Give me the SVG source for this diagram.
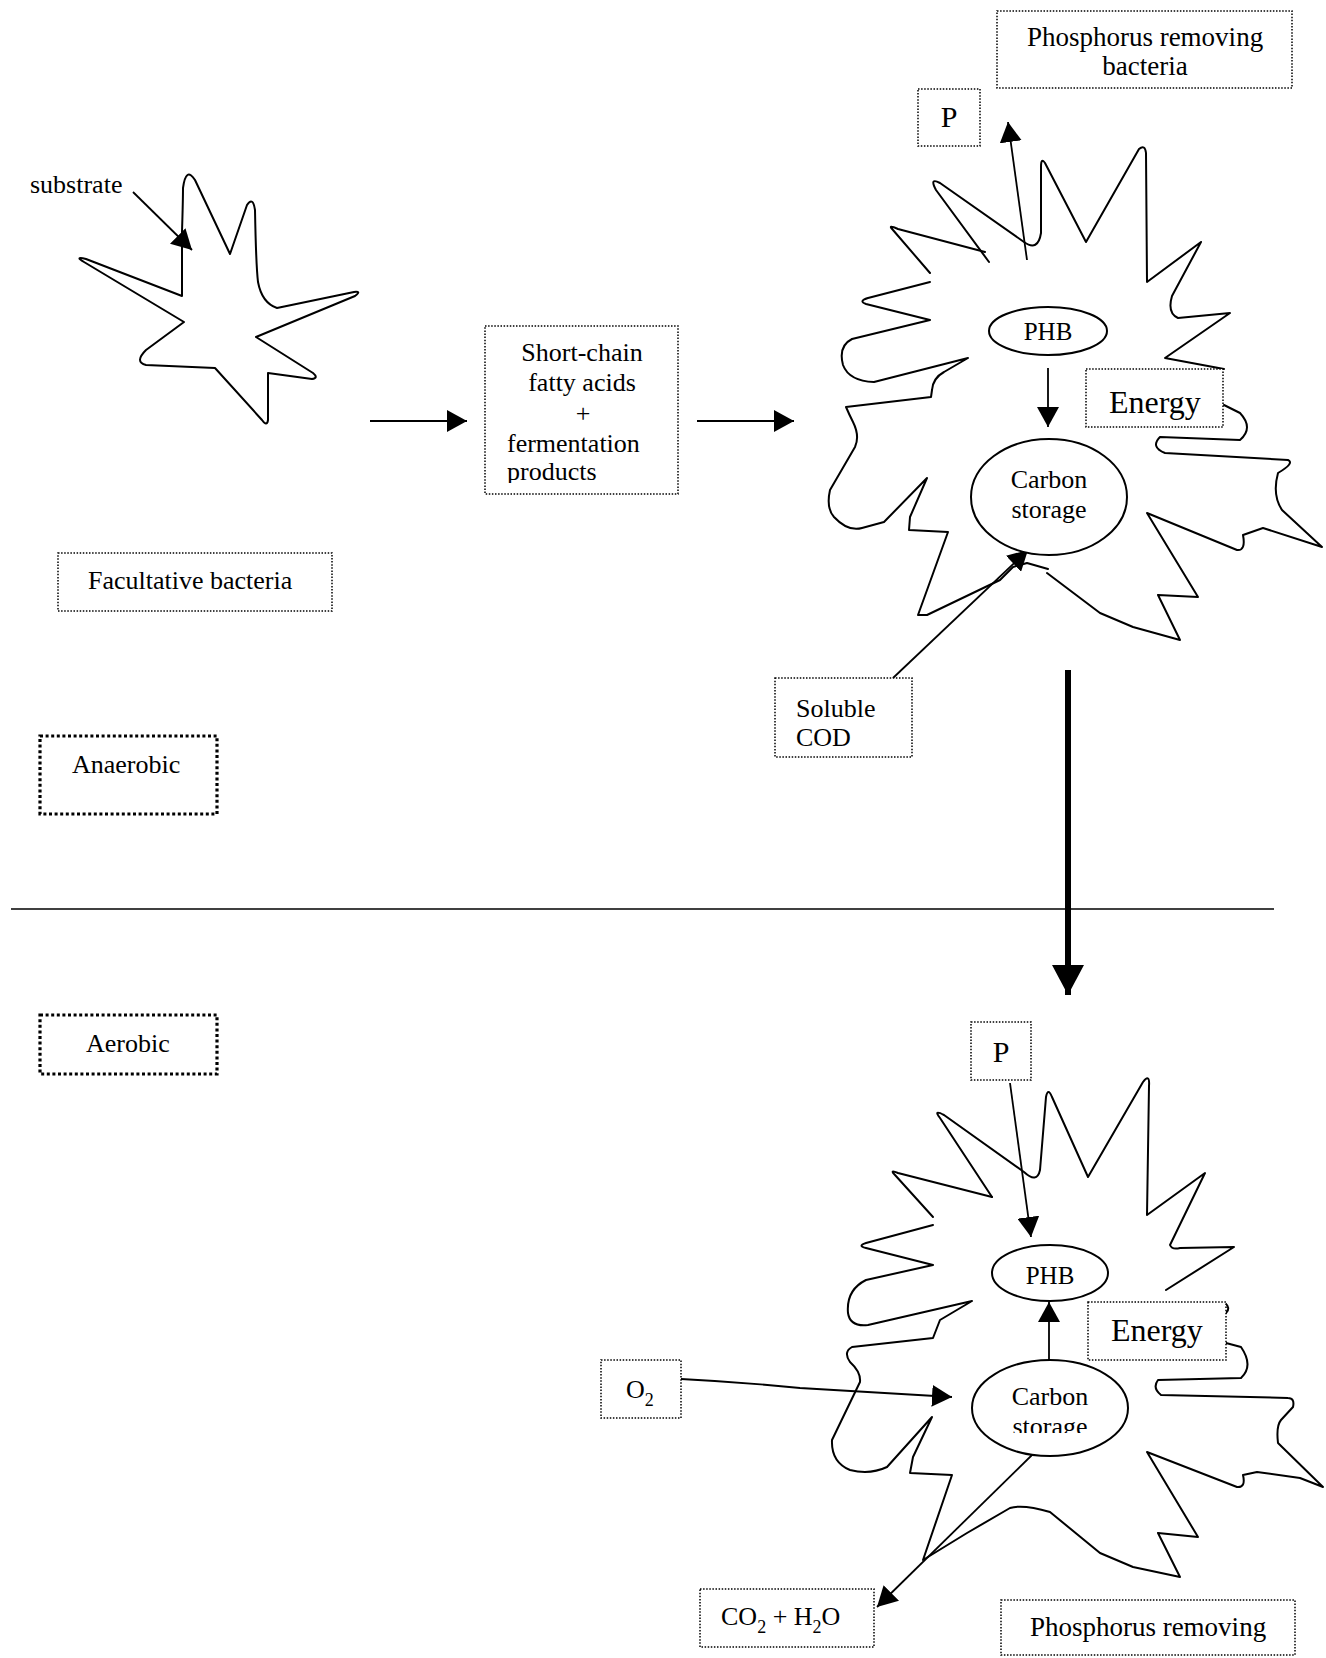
<svg xmlns="http://www.w3.org/2000/svg" width="1326" height="1658" viewBox="0 0 1326 1658">
  <style>
    .t { font-family: "Liberation Serif", "Times New Roman", serif; font-size: 26px; fill: #000; }
    .c { text-anchor: middle; }
    .box { fill: #fff; stroke: #000; stroke-width: 1.5; stroke-dasharray: 1.5 1.6; }
    .boxb { fill: #fff; stroke: #000; stroke-width: 3.2; stroke-dasharray: 3 2.6; }
    .cell { fill: none; stroke: #000; stroke-width: 2; stroke-linejoin: round; stroke-linecap: round; }
    .ell { fill: #fff; stroke: #000; stroke-width: 2; }
    .arr { fill: none; stroke: #000; stroke-width: 1.8; marker-end: url(#ah); }
  </style>
  <defs>
    <marker id="ah" viewBox="0 0 20 22" refX="20" refY="11" markerWidth="20" markerHeight="22" orient="auto" markerUnits="userSpaceOnUse">
      <path d="M0,0 L20,11 L0,22 Z" fill="#000"/>
    </marker>
    <marker id="ahBig" viewBox="0 0 30 32" refX="30" refY="16" markerWidth="30" markerHeight="32" orient="auto" markerUnits="userSpaceOnUse">
      <path d="M0,0 L30,16 L0,32 Z" fill="#000"/>
    </marker>
    <clipPath id="clipProducts"><rect x="480" y="320" width="200" height="163"/></clipPath>
    <clipPath id="clipStorage"><rect x="960" y="1360" width="180" height="73"/></clipPath>
  </defs>

  <!-- phase divider -->
  <line x1="11" y1="909" x2="1274" y2="909" stroke="#000" stroke-width="1.6"/>

  <!-- facultative bacterium -->
  <g id="facultative-cell">
    <path class="cell" d="M182,296 L182,232 Q183,200 183,188 Q186,166 195,180 L230,254 L247,205 Q253,196 255,210 Q256,265 258,282 Q262,303 277,308 L354,292 Q362,291 355,296 L256,337 L313,373 Q319,378 312,379 L268,373 L268,420 Q267,427 262,420 L215,368 L146,365 Q134,362 146,350 L184,322 L84,262 Q74,256 86,259 Z"/>
  </g>

  <!-- phosphorus removing bacterium, anaerobic phase -->
  <g id="pr-cell-anaerobic">
    <path class="cell" d="M930,282 L868,298 Q858,301 866,304 L930,320 L852,339 Q838,346 843,365 Q849,381 874,382 L968,358 L944,372 Q933,378 932,390 L931,397 L846,407 Q849,414 853,422 Q860,436 855,447 L830,490 Q826,508 834,517 Q848,532 862,528 L884,522 L927,478 L910,517 L909,530 L948,532 L918,615 L927,615 L1000,580 L1013,567 L1027,563 L1048,569"/>
    <path class="cell" d="M1047,573 L1100,613 L1133,627 L1180,640 L1158,595 L1198,597 L1147,513 L1237,550 Q1246,551 1243,535 L1263,528 L1322,547 L1282,510 Q1272,495 1278,473 Q1295,463 1288,460 L1165,453 Q1150,447 1160,437 L1240,440 Q1254,428 1240,413 L1224,405"/>
    <path class="cell" d="M1224,369 L1165,358 L1230,313 L1178,318 Q1167,313 1172,296 L1201,242 L1147,282 L1146,153 Q1145,144 1139,149 L1086,242 L1045,163 Q1041,157 1041,167 L1041,233 Q1038,252 1024,242 L940,183 Q929,177 936,190 L989,262"/>
    <path class="cell" d="M930,273 L893,230 Q887,224 898,229 L985,252"/>
  </g>

  <!-- phosphorus removing bacterium, aerobic phase -->
  <g id="pr-cell-aerobic">
    <path class="cell" d="M933,1217 L895,1175 Q889,1169 898,1173 L992,1197"/>
    <path class="cell" d="M992,1197 L940,1118 Q933,1109 944,1115 L1024,1172 Q1037,1184 1040,1170 L1046,1097 Q1048,1087 1052,1097 L1088,1177 L1143,1082 Q1150,1073 1149,1086 L1147,1215 L1205,1173 L1170,1245 Q1172,1250 1180,1248 L1234,1247 L1166,1290"/>
    <path class="cell" d="M1225,1303 Q1231,1308 1226,1313"/>
    <path class="cell" d="M933,1225 L866,1243 Q857,1246 866,1248 L933,1265 L866,1280 Q846,1290 848,1313 Q850,1327 868,1325 L972,1301 L940,1320 L933,1338 L852,1347 Q843,1352 850,1362 Q861,1372 860,1382 L832,1440 Q831,1462 850,1470 Q870,1475 887,1467 L932,1417 L913,1457 L910,1473 L952,1475 L923,1560 L967,1533 L1010,1508 Q1023,1504 1050,1512 L1100,1553 L1133,1567 L1180,1577 L1158,1533 L1198,1537 L1147,1452 L1237,1487 Q1246,1488 1243,1475 L1257,1472 L1300,1478 L1323,1487 L1278,1443 Q1276,1426 1281,1420 L1293,1407 Q1295,1398 1288,1398 L1161,1395 Q1152,1388 1158,1380 L1241,1378 Q1254,1366 1241,1347 L1226,1343"/>
  </g>

  <!-- connectors -->
  <g id="connectors">
    <path class="arr" d="M133,192 L192,250"/>
    <path class="arr" d="M370,421 L467,421"/>
    <path class="arr" d="M697,421 L794,421"/>
    <path class="arr" d="M1027,260 L1008,122"/>
    <path class="arr" d="M1048,368 L1048,427"/>
    <path class="arr" d="M893,678 L1028,550"/>
    <path d="M1068,670 L1068,995" fill="none" stroke="#000" stroke-width="6" marker-end="url(#ahBig)"/>
    <path class="arr" d="M1010,1083 L1031,1237"/>
    <path class="arr" d="M1049,1360 L1049,1302"/>
    <path class="arr" d="M681,1379 Q740,1382 800,1388 L952,1397"/>
    <path class="arr" d="M1032,1455 L877,1607"/>
  </g>

  <!-- labels -->
  <g id="substrate">
    <text class="t" x="30" y="193">substrate</text>
  </g>
  <g id="scfa">
    <rect class="box" x="485" y="326" width="193" height="168"/>
    <text class="t c" x="582" y="361">Short-chain</text>
    <text class="t c" x="582" y="391">fatty acids</text>
    <text class="t c" x="583" y="422">+</text>
    <text class="t" x="507" y="452">fermentation</text>
    <text class="t" x="507" y="480" clip-path="url(#clipProducts)">products</text>
  </g>
  <g id="facultative-label">
    <rect class="box" x="58" y="553" width="274" height="58"/>
    <text class="t" x="88" y="589">Facultative bacteria</text>
  </g>
  <g id="anaerobic-label">
    <rect class="boxb" x="40" y="736" width="177" height="78"/>
    <text class="t" x="72" y="773">Anaerobic</text>
  </g>
  <g id="aerobic-label">
    <rect class="boxb" x="40" y="1015" width="177" height="59"/>
    <text class="t" x="86" y="1052">Aerobic</text>
  </g>
  <g id="prb-label-top">
    <rect class="box" x="997" y="11" width="295" height="77"/>
    <text class="t c" x="1145" y="46" style="font-size:27px">Phosphorus removing</text>
    <text class="t c" x="1145" y="75" style="font-size:27px">bacteria</text>
  </g>
  <g id="p-out">
    <rect class="box" x="918" y="89" width="62" height="57"/>
    <text class="t c" x="949" y="127" style="font-size:30px">P</text>
  </g>
  <g id="phb-top">
    <ellipse class="ell" cx="1048" cy="331" rx="59" ry="24"/>
    <text class="t c" x="1048" y="340" style="font-size:25px">PHB</text>
  </g>
  <g id="energy-top">
    <rect class="box" x="1086" y="369" width="137" height="58"/>
    <text class="t" x="1109" y="413" style="font-size:32px">Energy</text>
  </g>
  <g id="carbon-top">
    <ellipse class="ell" cx="1049" cy="497" rx="78" ry="58"/>
    <text class="t c" x="1049" y="488">Carbon</text>
    <text class="t c" x="1049" y="518">storage</text>
  </g>
  <g id="soluble-cod">
    <rect class="box" x="775" y="678" width="137" height="79"/>
    <text class="t" x="796" y="717">Soluble</text>
    <text class="t" x="796" y="746">COD</text>
  </g>
  <g id="p-in">
    <rect class="box" x="971" y="1022" width="60" height="58"/>
    <text class="t c" x="1001" y="1062" style="font-size:30px">P</text>
  </g>
  <g id="phb-bottom">
    <ellipse class="ell" cx="1050" cy="1273" rx="58" ry="28"/>
    <text class="t c" x="1050" y="1284" style="font-size:25px">PHB</text>
  </g>
  <g id="energy-bottom">
    <rect class="box" x="1088" y="1302" width="138" height="58"/>
    <text class="t" x="1111" y="1341" style="font-size:32px">Energy</text>
  </g>
  <g id="o2">
    <rect class="box" x="601" y="1360" width="80" height="58"/>
    <text class="t" x="626" y="1398">O<tspan dy="8" style="font-size:18px">2</tspan></text>
  </g>
  <g id="carbon-bottom">
    <ellipse class="ell" cx="1050" cy="1408" rx="78" ry="48"/>
    <text class="t c" x="1050" y="1405">Carbon</text>
    <text class="t c" x="1050" y="1435" clip-path="url(#clipStorage)">storage</text>
  </g>
  <g id="co2-h2o">
    <rect class="box" x="700" y="1589" width="174" height="58"/>
    <text class="t" x="721" y="1625">CO<tspan dy="8" style="font-size:18px">2</tspan><tspan dy="-8"> + H</tspan><tspan dy="8" style="font-size:18px">2</tspan><tspan dy="-8">O</tspan></text>
  </g>
  <g id="prb-label-bottom">
    <rect class="box" x="1001" y="1600" width="294" height="55"/>
    <text class="t c" x="1148" y="1636" style="font-size:27px">Phosphorus removing</text>
  </g>
</svg>
